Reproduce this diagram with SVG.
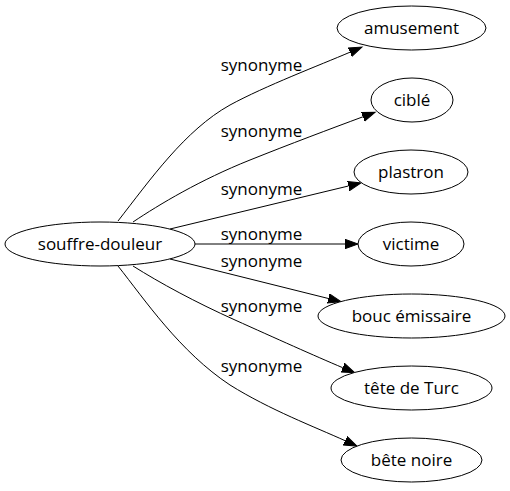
<svg xmlns="http://www.w3.org/2000/svg" width="510" height="491" viewBox="0 0 510 491">
<style>
  .node ellipse { fill: #ffffff; stroke: #000000; stroke-width: 1; }
  .node text { font-family: "Open Sans", "Liberation Sans", sans-serif; font-size: 17px; fill: #000000; text-anchor: middle; }
  .edge path { fill: none; stroke: #000000; stroke-width: 1; marker-end: url(#arrow); }
  .lbl { font-family: "Open Sans", "Liberation Sans", sans-serif; font-size: 17px; fill: #000000; text-anchor: middle; }
</style>
<defs>
  <marker id="arrow" markerUnits="userSpaceOnUse" markerWidth="15" markerHeight="11" refX="0" refY="5" orient="auto" viewBox="0 0 15 11">
    <path d="M0,0.3 L13,5 L0,9.7 z" fill="#000000" stroke="#000000" stroke-width="1"/>
  </marker>
</defs>
<rect width="510" height="491" fill="#ffffff"/>
<g id="connectors">
  <g class="edge"><path d="M118,221 C150,180 185,130 230,105 C265,86 320,65 350,52.2"/></g>
  <g class="edge"><path d="M133,222 C160,204 200,180 250,160 C290,144 330,129 362.9,116.8"/></g>
  <g class="edge"><path d="M170,229 L348.4,186"/></g>
  <g class="edge"><path d="M195,244 L345,244"/></g>
  <g class="edge"><path d="M170,259 L328.4,298.5"/></g>
  <g class="edge"><path d="M133,266 C160,283 195,302 235,320 C275,338 315,356 342.7,367.7"/></g>
  <g class="edge"><path d="M118,266 C145,300 180,352 230,385 C270,410 315,427 345.1,440.7"/></g>
  <text class="lbl" x="261.5" y="70.5">synonyme</text>
  <text class="lbl" x="261.5" y="137">synonyme</text>
  <text class="lbl" x="261.5" y="195">synonyme</text>
  <text class="lbl" x="261.5" y="239.5">synonyme</text>
  <text class="lbl" x="261.5" y="267">synonyme</text>
  <text class="lbl" x="261.5" y="312">synonyme</text>
  <text class="lbl" x="261.5" y="372">synonyme</text>
</g>
<g id="node-souffre-douleur" class="node">
  <ellipse cx="100" cy="244" rx="95" ry="22"/>
  <text x="100" y="250">souffre-douleur</text>
</g>
<g id="node-amusement" class="node">
  <ellipse cx="411.5" cy="28" rx="74.5" ry="22"/>
  <text x="411.5" y="34">amusement</text>
</g>
<g id="node-cible" class="node">
  <ellipse cx="412" cy="100" rx="41" ry="22"/>
  <text x="412" y="106">ciblé</text>
</g>
<g id="node-plastron" class="node">
  <ellipse cx="411" cy="172" rx="57" ry="22"/>
  <text x="411" y="178">plastron</text>
</g>
<g id="node-victime" class="node">
  <ellipse cx="411" cy="244" rx="53" ry="22"/>
  <text x="411" y="250">victime</text>
</g>
<g id="node-bouc-emissaire" class="node">
  <ellipse cx="411.5" cy="316" rx="93.5" ry="22"/>
  <text x="411.5" y="322">bouc émissaire</text>
</g>
<g id="node-tete-de-turc" class="node">
  <ellipse cx="411.5" cy="388" rx="80.5" ry="22"/>
  <text x="411.5" y="394">tête de Turc</text>
</g>
<g id="node-bete-noire" class="node">
  <ellipse cx="411.5" cy="460" rx="70.5" ry="22"/>
  <text x="411.5" y="466">bête noire</text>
</g>
</svg>
